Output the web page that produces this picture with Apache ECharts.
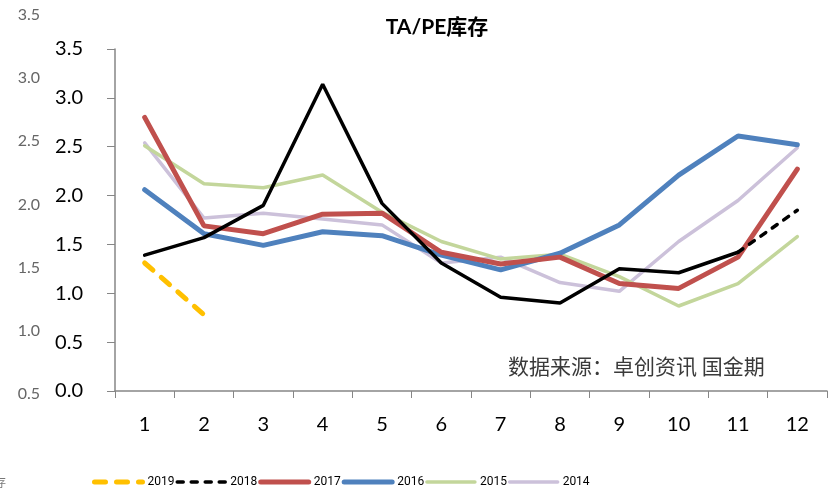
<!DOCTYPE html>
<html lang="zh">
  <head>
    <meta charset="UTF-8" />
    <title>TA/PE库存</title>
    <script src="https://cdn.jsdelivr.net/npm/echarts@6.0.0/dist/echarts.min.js"></script>
  </head>
  <style>
    html, body { margin: 0; padding: 0; background: #fff; }
  </style>
  <body>
    <div id="box" style="width: 836px; height: 495px"></div>
  </body>
  <script>
    // 月份
    var months = ["1", "2", "3", "4", "5", "6", "7", "8", "9", "10", "11", "12"];
    var yTicks = [0, 3.5, 0.5];
    var ghostTicks = [0.5, 3.5, 0.5];

    // 各年份库存
    var y2019 = [1.31, 0.78];
    var y2018 = [1.39, 1.57, 1.9, 3.14, 1.92, 1.31, 0.96, 0.9, 1.25, 1.21, 1.42];
    var y2018tail = [null, null, null, null, null, null, null, null, null, null, 1.42, 1.85];
    var y2017 = [2.8, 1.69, 1.61, 1.81, 1.82, 1.42, 1.3, 1.37, 1.1, 1.05, 1.37, 2.27];
    var y2016 = [2.06, 1.61, 1.49, 1.63, 1.59, 1.39, 1.24, 1.41, 1.7, 2.21, 2.61, 2.52];
    var y2015 = [2.51, 2.12, 2.08, 2.21, 1.83, 1.53, 1.35, 1.4, 1.17, 0.87, 1.1, 1.58];
    var y2014 = [2.54, 1.77, 1.82, 1.76, 1.7, 1.31, 1.37, 1.11, 1.02, 1.53, 1.95, 2.49];

    var font = "Lato, 'Noto Sans CJK SC', sans-serif";
    var myChart = echarts.init(document.getElementById("box"));

    var styles = {
      "2019": { color: "#FFC000", width: 5, type: [11, 11] },
      "2018": { color: "#000000", width: 3.5, type: [6, 8] },
      "2017": { color: "#C0504D", width: 5, type: "solid" },
      "2016": { color: "#4F81BD", width: 5, type: "solid" },
      "2015": { color: "#C3D69B", width: 3.5, type: "solid" },
      "2014": { color: "#CCC1DA", width: 3.5, type: "solid" },
    };

    function line(name, data, st, z) {
      return {
        name: name,
        type: "line",
        data: data,
        symbol: "none",
        z: z,
        lineStyle: { color: st.color, width: st.width, type: st.type, cap: "round" },
        itemStyle: { color: st.color },
      };
    }

    var legendData = ["2019", "2018", "2017", "2016", "2015", "2014"].map(function (n) {
      return {
        name: n,
        itemStyle: { opacity: 0 },
        lineStyle: { width: styles[n].width, type: styles[n].type, cap: "round", color: styles[n].color },
      };
    });

    var option = {
      animation: false,
      title: {
        text: "TA/PE库存",
        left: 432,
        textAlign: "center",
        top: 12,
        textStyle: { fontFamily: font, fontSize: 21, fontWeight: "bold", color: "#000" },
      },
      graphic: [
        {
          type: "text",
          left: 508,
          top: 356,
          style: { text: "数据来源：卓创资讯 国金期", font: "21px 'Noto Sans CJK SC'", fill: "#3a3a3a" },
        },
        {
          type: "text",
          left: -6,
          top: 476,
          style: { text: "存", font: "12px 'Noto Sans CJK SC'", fill: "#777" },
        },
      ],
      legend: {
        left: 87,
        top: 471,
        itemWidth: 48,
        itemHeight: 12,
        itemGap: 1,
        textStyle: { fontFamily: "Roboto, sans-serif", fontSize: 12, color: "#000" },
        data: legendData,
      },
      grid: [
        { left: 115, right: 9, top: 49, bottom: 104 },
        { left: 42, width: 1, top: 15, bottom: 101 },
      ],
      xAxis: [
        {
          type: "category",
          gridIndex: 0,
          data: months,
          boundaryGap: true,
          axisLine: { lineStyle: { color: "#868686", width: 1.5 } },
          axisTick: { show: true, length: 7, lineStyle: { color: "#868686" } },
          axisLabel: { color: "#000", fontSize: 20, fontFamily: font, margin: 24 },
        },
        { type: "category", gridIndex: 1, show: false, data: ["a"] },
      ],
      yAxis: [
        {
          type: "value",
          gridIndex: 0,
          min: yTicks[0],
          max: yTicks[1],
          interval: yTicks[2],
          splitLine: { show: false },
          axisLine: { show: true, lineStyle: { color: "#868686", width: 1.5 } },
          axisTick: { show: true, length: 8, lineStyle: { color: "#868686" } },
          axisLabel: {
            color: "#000",
            fontSize: 20,
            fontFamily: font,
            margin: 32,
            formatter: function (v) { return v.toFixed(1); },
          },
        },
        {
          type: "value",
          gridIndex: 1,
          min: ghostTicks[0],
          max: ghostTicks[1],
          interval: ghostTicks[2],
          splitLine: { show: false },
          axisLine: { show: false },
          axisTick: { show: false },
          axisLabel: {
            color: "#666",
            fontSize: 16,
            fontFamily: font,
            margin: 2,
            formatter: function (v) { return v.toFixed(1); },
          },
        },
      ],
      series: [
        line("2014", y2014, styles["2014"], 2),
        line("2015", y2015, styles["2015"], 3),
        line("2016", y2016, styles["2016"], 4),
        line("2017", y2017, styles["2017"], 5),
        line("2018-solid", y2018, Object.assign({}, styles["2018"], { type: "solid" }), 6),
        line("2018", y2018tail, styles["2018"], 6),
        line("2019", y2019, styles["2019"], 7),
      ],
    };
    myChart.setOption(option);
  </script>
</html>
